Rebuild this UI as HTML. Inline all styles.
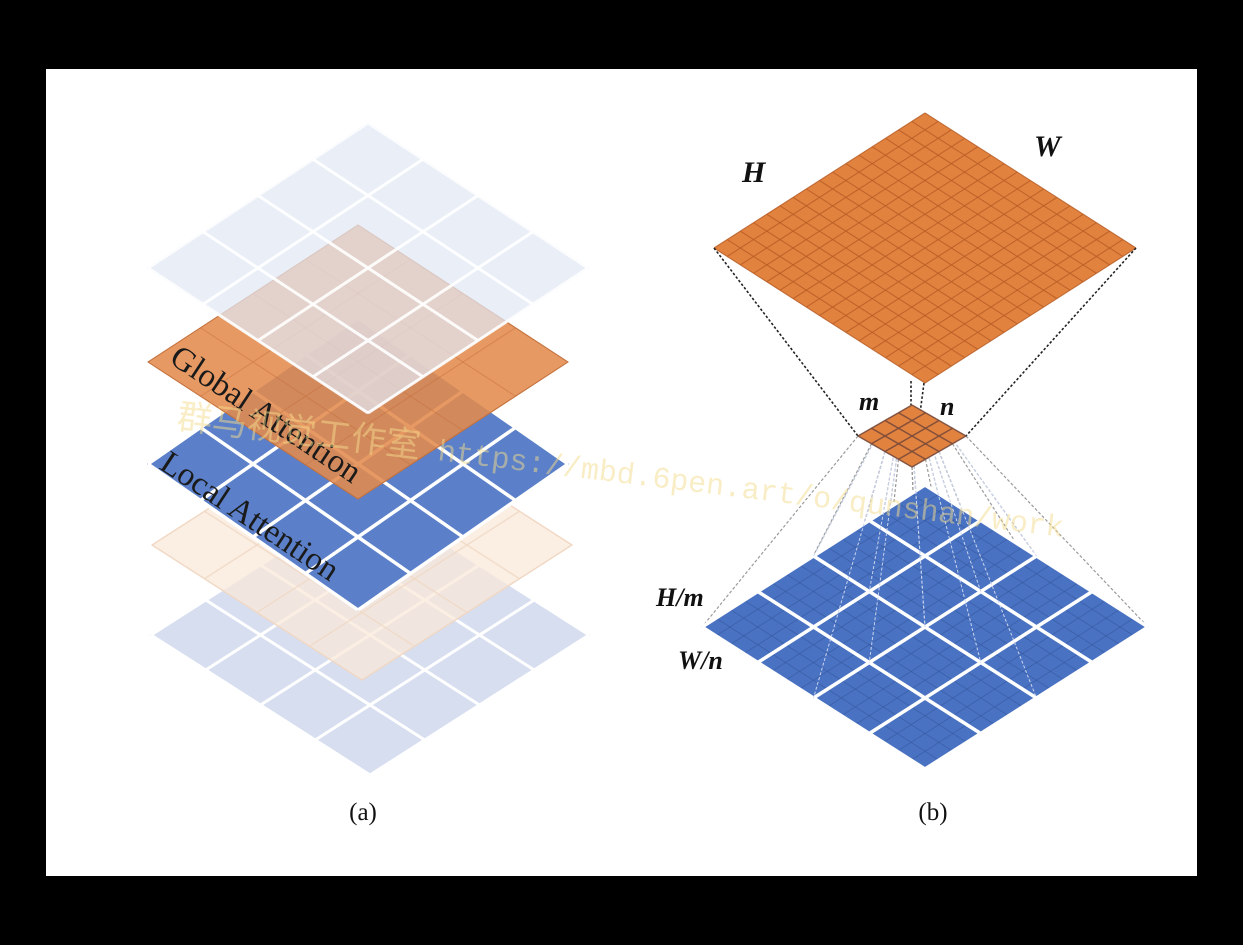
<!DOCTYPE html>
<html><head><meta charset="utf-8"><style>
html,body{margin:0;padding:0;background:#000;}
svg{display:block;}
</style></head><body>
<svg id="s" width="1243" height="945" viewBox="0 0 1243 945" xmlns="http://www.w3.org/2000/svg">
<rect x="0" y="0" width="1243" height="945" fill="#000"/>
<rect x="46" y="69" width="1151" height="807" fill="#fff"/>
<g id="ga"></g>
<g id="gb"></g>
<g id="gt">
<text x="363" y="820" font-family="Liberation Serif, serif" font-size="25" text-anchor="middle" fill="#111">(a)</text>
<text x="933" y="820" font-family="Liberation Serif, serif" font-size="25" text-anchor="middle" fill="#111">(b)</text>
<text x="742" y="182" font-family="Liberation Serif, serif" font-size="30" font-style="italic" font-weight="bold" fill="#111">H</text>
<text x="1034" y="156" font-family="Liberation Serif, serif" font-size="30" font-style="italic" font-weight="bold" fill="#111">W</text>
<text x="859" y="410" font-family="Liberation Serif, serif" font-size="26" font-style="italic" font-weight="bold" fill="#111">m</text>
<text x="940" y="415" font-family="Liberation Serif, serif" font-size="26" font-style="italic" font-weight="bold" fill="#111">n</text>
<text x="656" y="606" font-family="Liberation Serif, serif" font-size="26" font-style="italic" font-weight="bold" fill="#111">H/m</text>
<text x="678" y="669" font-family="Liberation Serif, serif" font-size="26" font-style="italic" font-weight="bold" fill="#111">W/n</text>
<text transform="translate(168,362) rotate(33.5)" font-family="Liberation Serif, serif" font-size="33" fill="#1a1a1a">Global Attention</text>
<text transform="translate(158,468) rotate(33.5)" font-family="Liberation Serif, serif" font-size="33" fill="#1a1a1a">Local Attention</text>
<text transform="translate(176,428) rotate(7)" font-family="Liberation Mono, 'Noto Sans CJK SC', monospace" font-size="30" fill="#f3dc8c" fill-opacity="0.5"><tspan font-size="35" font-family="'Noto Sans CJK SC', sans-serif">群马视觉工作室</tspan> https://mbd.6pen.art/o/qunshan/work</text>
</g>
<script>
var NS='http://www.w3.org/2000/svg';
// layer descriptors: [topX, topY, halfW, halfH, cells]
var layersA=[[370,495,219,140,4],[362,410,210,135,4],[358,318,210,146,4],[358,225,210,137,4],[368,123,220,145,4]];
function P(L,u,v){return [L[0]+(u-v)*L[2], L[1]+(u+v)*L[3]];}
function mk(tag,parent){var e=document.createElementNS(NS,tag);parent.appendChild(e);return e;}
function diamond(parent,L,fill,op,name,stroke){
  var a=P(L,0,0),b=P(L,1,0),c=P(L,1,1),d=P(L,0,1);
  var p=mk('polygon',parent);
  p.setAttribute('points',[a,b,c,d].map(function(q){return q.join(',');}).join(' '));
  p.setAttribute('fill',fill);p.setAttribute('fill-opacity',op);
  if(stroke){p.setAttribute('stroke',stroke);p.setAttribute('stroke-width',1);}
  
  
  return p;
}
function grid(parent,L,n,stroke,sw,op,name){
  for(var i=0;i<=n;i++){
    var t=i/n;
    [[P(L,t,0),P(L,t,1)],[P(L,0,t),P(L,1,t)]].forEach(function(s){
      var l=mk('line',parent);
      l.setAttribute('x1',s[0][0]);l.setAttribute('y1',s[0][1]);
      l.setAttribute('x2',s[1][0]);l.setAttribute('y2',s[1][1]);
      l.setAttribute('stroke',stroke);l.setAttribute('stroke-width',sw);l.setAttribute('stroke-opacity',op);
      
      
    });
  }
}
var ga=document.getElementById('ga');
diamond(ga,layersA[0],'#d6def0',1,'bottom-grid-layer','#c8d2e8');grid(ga,layersA[0],4,'#fff',3,1,'bottom-grid-line');
diamond(ga,layersA[1],'#f9e8da',0.75,'peach-layer','#eed3bd');grid(ga,layersA[1],4,'#f0d8c4',1.5,0.8,'peach-grid-line');
diamond(ga,layersA[2],'#5b80c9',1,'local-attention-layer','#3d5c9c');grid(ga,layersA[2],4,'#fff',3.5,1,'local-grid-line');
diamond(ga,layersA[3],'#e38a4c',0.87,'global-attention-layer','#c4743e');grid(ga,layersA[3],4,'#c6703c',1,0.5,'global-grid-line');
diamond(ga,layersA[4],'#e2e8f4',0.72,'top-grid-layer','#c9d1e3');grid(ga,layersA[4],4,'#fff',3,0.9,'top-grid-line');

var gb=document.getElementById('gb');
var bigL=[925,113,211,135,16], smallL=[912,405,54,31,4], blueL=[925,485,223,142,16];
var k;
for(k=0;k<=4;k++){
  var s1=P(smallL,k/4,1), s2=P(smallL,1,k/4);
  var t1=P(blueL,k/4,1), t2=P(blueL,1,k/4);
  [[s1,t1],[s2,t2],[P(smallL,k/4,0.5),P(blueL,k/4,0.5)],[P(smallL,0.5,k/4),P(blueL,0.5,k/4)]].forEach(function(s){
    var l=mk('line',gb);
    l.setAttribute('x1',s[0][0]);l.setAttribute('y1',s[0][1]);l.setAttribute('x2',s[1][0]);l.setAttribute('y2',s[1][1]);
    l.setAttribute('stroke','#9a9a9a');l.setAttribute('stroke-width',1.2);l.setAttribute('stroke-dasharray','3,2');
    
    
  });
}
diamond(gb,blueL,'#4a72c2',1,'local-window-layer');grid(gb,blueL,16,'#33589e',1,0.6,'local-fine-grid');grid(gb,blueL,4,'#fff',3.5,1,'window-grid-line');
for(k=0;k<=4;k++){
  [[P(smallL,k/4,0.5),P(blueL,k/4,0.5)],[P(smallL,0.5,k/4),P(blueL,0.5,k/4)]].forEach(function(s){
    var l=mk('line',gb);
    l.setAttribute('x1',s[0][0]);l.setAttribute('y1',s[0][1]);l.setAttribute('x2',s[1][0]);l.setAttribute('y2',s[1][1]);
    l.setAttribute('stroke','#c9d4ee');l.setAttribute('stroke-width',1);l.setAttribute('stroke-dasharray','3,2');
    
    
  });
}
diamond(gb,bigL,'#e2823f',1,'feature-map-layer');grid(gb,bigL,16,'#b85e27',1.1,0.85,'feature-grid-line');
[[P(bigL,0,1),P(smallL,0,1)],[P(bigL,1,0),P(smallL,1,0)],[[911,381],[911,405]],[[924,383],[913,466]]].forEach(function(s){
  var l=mk('line',gb);
  l.setAttribute('x1',s[0][0]);l.setAttribute('y1',s[0][1]);l.setAttribute('x2',s[1][0]);l.setAttribute('y2',s[1][1]);
  l.setAttribute('stroke','#222');l.setAttribute('stroke-width',1.6);l.setAttribute('stroke-dasharray','2.5,2');
  
  
});
diamond(gb,smallL,'#e2823f',1,'window-layer');grid(gb,smallL,4,'#7a4a3a',1.5,0.9,'window-cell-line');
</script>
</svg>
</body></html>
